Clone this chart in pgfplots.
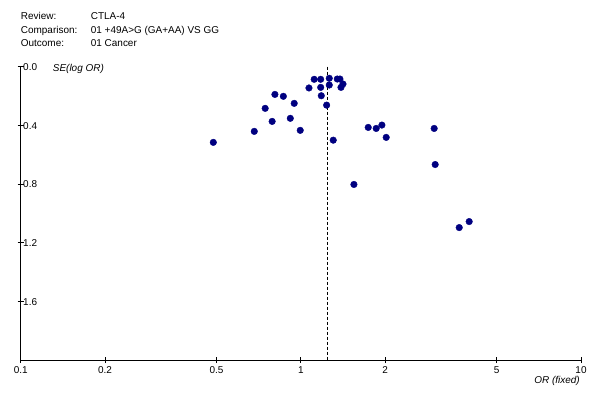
\documentclass[border=0pt]{standalone}
\usepackage{fontspec}
\setmainfont{Liberation Sans}
\usepackage{pgfplots}
\pgfplotsset{compat=1.18}
\definecolor{dotblue}{RGB}{0,0,128}

\begin{document}
\fontsize{10}{12}\selectfont
\begin{tikzpicture}
\path[use as bounding box] (0bp,0bp) rectangle (600bp,400bp);

% header
\node[anchor=base west,inner sep=0] at (20.7bp,380bp) {Review:};
\node[anchor=base west,inner sep=0] at (90.7bp,380bp) {CTLA-4};
\node[anchor=base west,inner sep=0] at (20.7bp,366bp) {Comparison:};
\node[anchor=base west,inner sep=0] at (90.7bp,366bp) {01 +49A>G (GA+AA) VS GG};
\node[anchor=base west,inner sep=0] at (20.7bp,353bp) {Outcome:};
\node[anchor=base west,inner sep=0] at (90.7bp,353bp) {01 Cancer};

\begin{axis}[
    at={(20.7bp,40bp)}, anchor=south west,
    scale only axis,
    width=560.3bp, height=293.3bp,
    xmode=log, log basis x=10,
    xmin=0.1, xmax=10,
    ymin=0, ymax=2,
    y dir=reverse,
    axis x line=bottom,
    axis y line=left,
    axis line style={-, line width=0.8pt},
    xtick={0.1,0.2,0.5,1,2,5,10},
    xticklabels={0.1,0.2,0.5,1,2,5,10},
    ytick={0,0.4,0.8,1.2,1.6},
    yticklabel style={anchor=west, xshift=2bp, yshift=-0.5bp,
        /pgf/number format/fixed, /pgf/number format/precision=1,
        /pgf/number format/fixed zerofill},
    /pgf/number format/assume math mode=true,
    tick align=center,
    major tick length=6bp,
    tick style={black, line width=0.8pt},
    minor tick num=0,
    clip=false,
]
\addplot[black, dashed, dash pattern=on 3bp off 2bp, line width=0.6pt] coordinates {(1.245,0) (1.245,2)};
\addplot[only marks, mark=*, mark size=3.3bp, color=dotblue] coordinates {
    (0.487,0.516)
    (0.682,0.441)
    (0.746,0.284)
    (0.790,0.373)
    (0.808,0.189)
    (0.866,0.202)
    (0.947,0.250)
    (0.917,0.352)
    (0.995,0.434)
    (1.069,0.145)
    (1.116,0.086)
    (1.177,0.086)
    (1.177,0.141)
    (1.183,0.198)
    (1.236,0.262)
    (1.263,0.079)
    (1.263,0.125)
    (1.305,0.501)
    (1.349,0.084)
    (1.379,0.084)
    (1.391,0.141)
    (1.414,0.118)
    (1.547,0.803)
    (1.740,0.414)
    (1.858,0.421)
    (1.947,0.398)
    (2.017,0.482)
    (2.992,0.421)
    (3.017,0.667)
    (3.676,1.097)
    (3.990,1.056)
};
\end{axis}

\node[anchor=base west,inner sep=0] at (52.7bp,328.3bp) {\itshape SE(log OR)};
\node[anchor=base east,inner sep=0] at (580bp,16.7bp) {\itshape OR (fixed)};
\end{tikzpicture}
\end{document}
